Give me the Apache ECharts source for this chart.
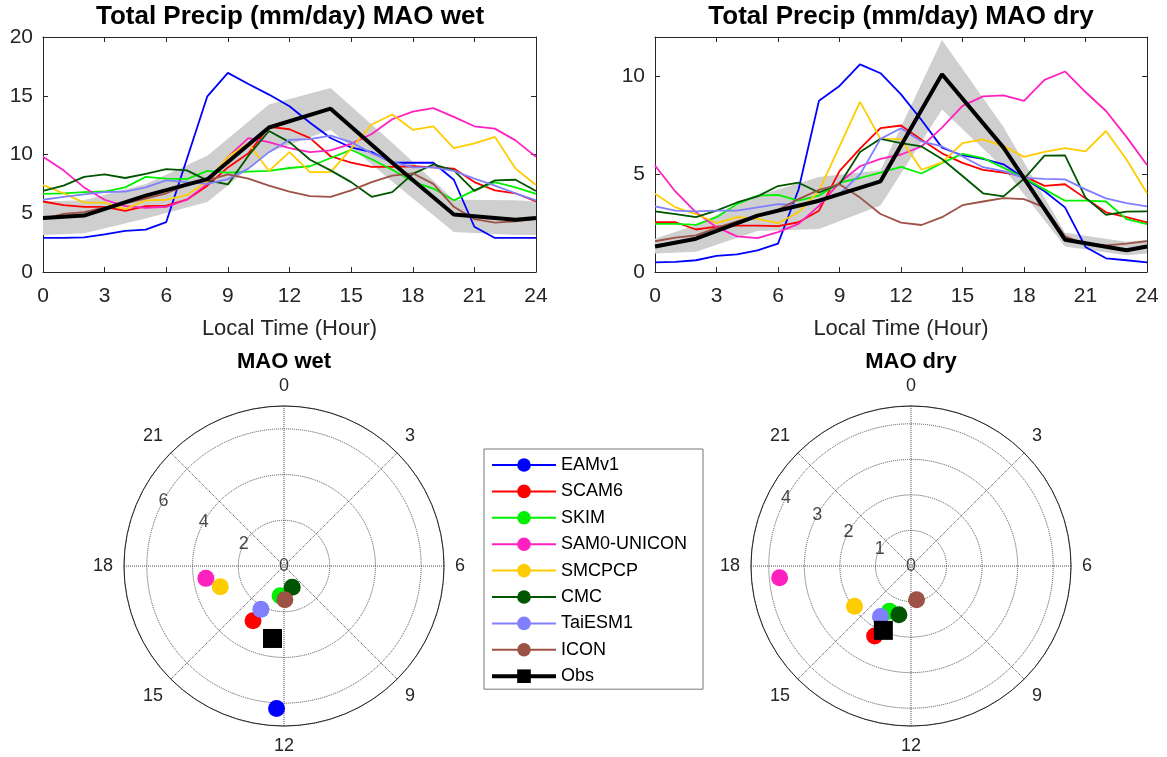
<!DOCTYPE html>
<html>
<head>
<meta charset="utf-8">
<title>Total Precip diurnal cycle MAO</title>
<script src="https://cdn.jsdelivr.net/npm/echarts@6/dist/echarts.min.js"></script>
<style>
  html, body { margin: 0; padding: 0; background: #fff; }
  #main { width: 1167px; height: 757px; }
</style>
</head>
<body>
<div id="main"></div>
<script>
// ---- data ----
const hours = [0, 1, 2, 3, 4, 5, 6, 7, 8, 9, 10, 11, 12, 13, 14, 15, 16, 17, 18, 19, 20, 21, 22, 23, 24];
const models = ['EAMv1', 'SCAM6', 'SKIM', 'SAM0-UNICON', 'SMCPCP', 'CMC', 'TaiESM1', 'ICON'];

// MAO wet, mm/day
const wetEAMv1 = [2.9, 2.9, 2.95, 3.2, 3.5, 3.6, 4.25, 9.6, 14.95, 16.95, 16.0, 15.1, 14.1, 12.7, 11.4, 10.6, 10.2, 9.3, 9.3, 9.3, 7.85, 3.85, 2.9, 2.9, 2.9];
const wetSCAM6 = [6.0, 5.7, 5.55, 5.55, 5.2, 5.6, 5.65, 6.15, 7.35, 8.9, 10.1, 12.35, 12.15, 11.4, 9.85, 9.3, 8.95, 8.95, 9.0, 8.9, 8.8, 7.65, 6.95, 6.7, 6.0];
const wetSKIM = [6.65, 6.7, 6.8, 6.85, 7.2, 8.1, 7.95, 7.9, 8.6, 8.45, 8.55, 8.6, 8.85, 9.0, 9.7, 10.4, 9.6, 8.7, 7.7, 7.1, 6.1, 6.95, 7.65, 7.2, 6.65];
const wetSAM0 = [9.8, 8.65, 7.2, 6.15, 5.6, 5.45, 5.55, 6.15, 7.5, 9.8, 11.4, 11.05, 10.55, 10.2, 10.35, 10.9, 11.75, 13.0, 13.65, 13.95, 13.2, 12.4, 12.2, 11.2, 9.8];
const wetSMCPCP = [7.4, 6.7, 5.9, 5.9, 5.35, 6.1, 6.15, 6.55, 7.7, 9.8, 10.95, 8.6, 10.2, 8.5, 8.5, 10.5, 12.55, 13.4, 12.1, 12.4, 10.55, 10.95, 11.5, 8.8, 7.4];
const wetCMC = [6.9, 7.35, 8.1, 8.3, 8.0, 8.35, 8.75, 8.65, 7.8, 7.45, 9.9, 12.0, 11.05, 9.55, 8.65, 7.65, 6.4, 6.8, 8.35, 9.15, 8.65, 6.9, 7.8, 7.85, 6.9];
const wetTaiESM1 = [6.15, 6.4, 6.6, 6.8, 6.85, 7.2, 7.8, 7.65, 7.5, 7.9, 8.8, 10.2, 11.25, 11.3, 11.6, 11.05, 10.1, 9.4, 8.9, 8.9, 8.6, 7.95, 7.35, 6.7, 6.1];
const wetICON = [4.5, 4.95, 5.1, 5.5, 5.85, 6.25, 6.7, 7.4, 7.8, 8.3, 7.95, 7.35, 6.85, 6.45, 6.4, 6.95, 7.65, 8.2, 8.4, 7.5, 5.55, 4.5, 4.2, 4.3, 4.5];

// MAO dry, mm/day
const dryEAMv1 = [0.49, 0.52, 0.6, 0.82, 0.9, 1.1, 1.45, 4.2, 8.75, 9.5, 10.6, 10.15, 9.07, 7.76, 6.35, 5.95, 5.78, 5.5, 4.8, 4.12, 3.3, 1.28, 0.7, 0.6, 0.49];
const drySCAM6 = [2.54, 2.54, 2.17, 2.32, 2.37, 2.37, 2.34, 2.54, 3.13, 5.15, 6.3, 7.35, 7.48, 6.75, 6.06, 5.57, 5.22, 5.08, 4.9, 4.4, 4.48, 3.76, 3.05, 2.8, 2.54];
const drySKIM = [2.46, 2.46, 2.41, 2.8, 3.47, 3.9, 3.94, 3.64, 3.9, 4.56, 4.8, 5.07, 5.37, 5.03, 5.57, 6.03, 5.82, 5.32, 4.8, 4.22, 3.64, 3.64, 3.6, 2.7, 2.44];
const drySAM0 = [5.44, 4.1, 3.05, 2.29, 1.82, 1.73, 2.04, 2.46, 3.38, 4.56, 5.4, 5.78, 6.0, 6.41, 7.37, 8.48, 8.97, 9.02, 8.74, 9.81, 10.24, 9.19, 8.22, 6.9, 5.46];
const drySMCPCP = [4.0, 3.3, 2.96, 2.5, 2.8, 2.71, 2.49, 3.05, 4.14, 6.41, 8.69, 6.8, 6.78, 5.22, 5.6, 6.58, 6.77, 6.43, 5.88, 6.13, 6.33, 6.16, 7.2, 5.74, 4.02];
const dryCMC = [3.1, 2.96, 2.8, 3.13, 3.55, 3.86, 4.39, 4.56, 4.06, 4.48, 6.13, 6.8, 6.58, 6.41, 5.77, 4.9, 4.02, 3.86, 4.76, 5.94, 5.96, 3.8, 2.92, 3.08, 3.1];
const dryTaiESM1 = [3.35, 3.13, 3.1, 3.13, 3.13, 3.3, 3.47, 3.43, 3.6, 3.97, 4.98, 6.8, 7.34, 6.67, 6.41, 5.9, 5.35, 5.15, 4.81, 4.76, 4.73, 4.22, 3.76, 3.52, 3.35];
const dryICON = [1.57, 1.75, 1.87, 2.26, 2.58, 2.85, 3.17, 3.72, 4.19, 4.48, 3.8, 2.96, 2.52, 2.4, 2.8, 3.41, 3.6, 3.77, 3.72, 3.3, 1.82, 1.42, 1.36, 1.45, 1.58];

// observations, 3-hourly (wrapped to 0 and 24)
const obsHours = [0, 2, 5, 8, 11, 14, 17, 20, 23, 24];
const wetObs = [4.6, 4.8, 6.5, 7.9, 12.3, 13.9, 9.3, 4.9, 4.45, 4.6];
const wetObsLow = [3.15, 3.3, 4.55, 5.95, 10.2, 12.1, 7.7, 3.4, 3.15, 3.15];
const wetObsHigh = [6.0, 6.1, 7.5, 9.9, 14.25, 15.65, 11.0, 6.15, 6.1, 6.0];
const dryObs = [1.3, 1.7, 2.88, 3.64, 4.63, 10.1, 6.35, 1.65, 1.11, 1.3];
const dryObsLow = [0.95, 1.03, 2.1, 2.2, 3.4, 8.3, 5.3, 1.3, 0.86, 0.94];
const dryObsHigh = [1.7, 2.4, 3.9, 4.85, 5.2, 11.85, 7.4, 2.0, 1.55, 1.65];

// harmonic amplitude (mm/day) and phase (local hour) for the polar plots
const wetAmp = [6.24, 2.75, 1.31, 3.46, 2.93, 1.0, 2.15, 1.48];
const wetPhase = [12.2, 13.97, 12.5, 17.4, 16.8, 10.6, 13.87, 11.9];
const wetObsAmp = 3.21, wetObsPhase = 12.6;
const dryAmp = [4.54, 2.22, 1.41, 3.71, 1.95, 1.41, 1.66, 0.965];
const dryPhase = [12.1, 13.83, 13.7, 17.66, 15.64, 12.93, 14.08, 11.38];
const dryObsAmp = 1.97, dryObsPhase = 13.55;

const wetRings = [0, 2, 4, 6];
const dryRings = [0, 1, 2, 3, 4];
const ringLabelHour = 19.9;

// ---- styles ----
const colors = ['#0000ff', '#ff0000', '#00f000', '#ff20c0', '#ffcc00', '#005500', '#8080ff', '#9c5245'];
const FONT = '"Liberation Sans", Arial, Helvetica, sans-serif';
const AX = '#262626';

const wetModels = [wetEAMv1, wetSCAM6, wetSKIM, wetSAM0, wetSMCPCP, wetCMC, wetTaiESM1, wetICON];
const dryModels = [dryEAMv1, drySCAM6, drySKIM, drySAM0, drySMCPCP, dryCMC, dryTaiESM1, dryICON];

function pairs(xs, ys) {
    return xs.map((x, i) => [x, ys[i]]);
}

function lineSeries(name, color, xs, ys, gi, width, symbol) {
    return {
        type: 'line', name: name,
        xAxisIndex: gi * 2, yAxisIndex: gi * 2,
        data: pairs(xs, ys),
        symbol: symbol, showSymbol: false,
        lineStyle: { color: color, width: width },
        itemStyle: { color: color },
        silent: true, z: 3
    };
}

// grey spread around the observations, one polygon through the axis scales
function bandSeries(xs, lo, hi, gi) {
    return {
        type: 'custom', name: 'band-' + gi,
        xAxisIndex: gi * 2, yAxisIndex: gi * 2,
        data: xs.map((x, i) => [x, lo[i], hi[i]]),
        encode: { x: 0, y: [1, 2] },
        renderItem: function (params, api) {
            if (params.dataIndex !== 0) {
                return null;
            }
            const top = xs.map((x, i) => api.coord([x, hi[i]]));
            const bottom = xs.map((x, i) => api.coord([x, lo[i]])).reverse();
            return {
                type: 'polygon',
                shape: { points: top.concat(bottom) },
                style: { fill: '#cfcfcf', stroke: null }
            };
        },
        silent: true, z: 1
    };
}

function xAxis(gi, pos) {
    const bottom = pos === 'bottom';
    return {
        type: 'value', gridIndex: gi, position: pos,
        min: 0, max: 24, interval: 3,
        axisLine: { onZero: false, lineStyle: { color: AX, width: 1 } },
        axisTick: { inside: true, length: 5, lineStyle: { color: AX } },
        axisLabel: { show: bottom, fontSize: 21, color: AX, margin: 14, fontFamily: FONT },
        splitLine: { show: false },
        name: bottom ? 'Local Time (Hour)' : '',
        nameLocation: 'middle', nameGap: 46,
        nameTextStyle: { fontSize: 22, color: AX, fontFamily: FONT }
    };
}

function yAxis(gi, pos, max) {
    const left = pos === 'left';
    return {
        type: 'value', gridIndex: gi, position: pos,
        min: 0, max: max, interval: 5,
        axisLine: { show: true, onZero: false, lineStyle: { color: AX, width: 1 } },
        axisTick: { show: true, inside: true, length: 5, lineStyle: { color: AX } },
        axisLabel: { show: left, fontSize: 21, color: AX, margin: 10, fontFamily: FONT, showMaxLabel: max % 5 === 0 },
        splitLine: { show: false }
    };
}

function angleAxis(pi) {
    return {
        polarIndex: pi, type: 'value',
        min: 0, max: 24, interval: 3,
        startAngle: 90, clockwise: true,
        axisLine: { lineStyle: { color: AX, width: 1 } },
        axisTick: { show: false },
        axisLabel: { fontSize: 18, color: AX, margin: 11, fontFamily: FONT,
            formatter: v => (v === 24 ? '' : String(v)) },
        splitLine: { lineStyle: { type: 'dotted', color: '#4a4a4a', width: 1 } }
    };
}

function radiusAxis(pi, max, interval) {
    return {
        polarIndex: pi, type: 'value',
        min: 0, max: max, interval: interval,
        axisLine: { show: false },
        axisTick: { show: false },
        axisLabel: { show: false },
        splitLine: { lineStyle: { type: 'dotted', color: '#4a4a4a', width: 1 } }
    };
}

function polarPoints(pi, amps, phases, obsAmp, obsPhase) {
    const out = models.map((m, i) => ({
        type: 'scatter', name: m,
        coordinateSystem: 'polar', polarIndex: pi,
        data: [[amps[i], phases[i]]],
        symbol: 'circle', symbolSize: 17,
        itemStyle: { color: colors[i], opacity: 1 },
        silent: true, z: 4
    }));
    out.push({
        type: 'scatter', name: 'Obs',
        coordinateSystem: 'polar', polarIndex: pi,
        data: [[obsAmp, obsPhase]],
        symbol: 'rect', symbolSize: 19,
        itemStyle: { color: '#000', opacity: 1 },
        silent: true, z: 4
    });
    return out;
}

function ringLabels(pi, rings) {
    return {
        type: 'scatter', name: 'rings-' + pi,
        coordinateSystem: 'polar', polarIndex: pi,
        data: rings.map(r => [r, ringLabelHour]),
        symbolSize: 0,
        label: { show: true, position: 'inside', formatter: p => String(p.value[0]),
            fontSize: 18, color: '#1a1a1a', fontFamily: FONT },
        silent: true, z: 2
    };
}

const series = [];
series.push(bandSeries(obsHours, wetObsLow, wetObsHigh, 0));
series.push(bandSeries(obsHours, dryObsLow, dryObsHigh, 1));
models.forEach((m, i) => {
    series.push(lineSeries(m, colors[i], hours, wetModels[i], 0, 1.8, 'circle'));
    series.push(lineSeries(m, colors[i], hours, dryModels[i], 1, 1.8, 'circle'));
});
series.push(lineSeries('Obs', '#000', obsHours, wetObs, 0, 4, 'rect'));
series.push(lineSeries('Obs', '#000', obsHours, dryObs, 1, 4, 'rect'));
series.push(ringLabels(0, wetRings));
series.push(ringLabels(1, dryRings));
series.push(...polarPoints(0, wetAmp, wetPhase, wetObsAmp, wetObsPhase));
series.push(...polarPoints(1, dryAmp, dryPhase, dryObsAmp, dryObsPhase));

function caption(text, x, y, size) {
    return {
        type: 'text', x: x, y: y, silent: true,
        style: { text: text, fill: '#000', fontSize: size, fontWeight: 'bold', fontFamily: FONT,
            align: 'center', verticalAlign: 'middle' }
    };
}

const legendNames = models.concat(['Obs']);

const option = {
    animation: false,
    backgroundColor: '#fff',
    textStyle: { fontFamily: FONT },
    graphic: [
        caption('Total Precip (mm/day) MAO wet', 290, 17, 26),
        caption('Total Precip (mm/day) MAO dry', 901, 17, 26),
        caption('MAO wet', 284, 362, 22),
        caption('MAO dry', 911, 362, 22)
    ],
    grid: [
        { left: 43, top: 37, width: 493, height: 235 },
        { left: 655, top: 37, width: 492, height: 235 }
    ],
    xAxis: [xAxis(0, 'bottom'), xAxis(0, 'top'), xAxis(1, 'bottom'), xAxis(1, 'top')],
    yAxis: [yAxis(0, 'left', 20), yAxis(0, 'right', 20), yAxis(1, 'left', 12), yAxis(1, 'right', 12)],
    polar: [
        { center: [284, 566], radius: 160 },
        { center: [911, 566], radius: 160 }
    ],
    angleAxis: [angleAxis(0), angleAxis(1)],
    radiusAxis: [radiusAxis(0, 7, 2), radiusAxis(1, 4.5, 1)],
    legend: {
        orient: 'vertical', left: 484, top: 449,
        data: legendNames.map(n => (n === 'Obs' ? { name: n, lineStyle: { width: 4 } } : { name: n })),
        itemWidth: 64, itemHeight: 17, itemGap: 8.4,
        padding: [7, 16, 4, 6],
        borderColor: '#777', borderWidth: 1,
        selectedMode: false,
        textStyle: { fontSize: 18, color: '#000', fontFamily: FONT }
    },
    series: series
};

const chart = echarts.init(document.getElementById('main'), null, { renderer: 'canvas' });
chart.setOption(option);
</script>
</body>
</html>
